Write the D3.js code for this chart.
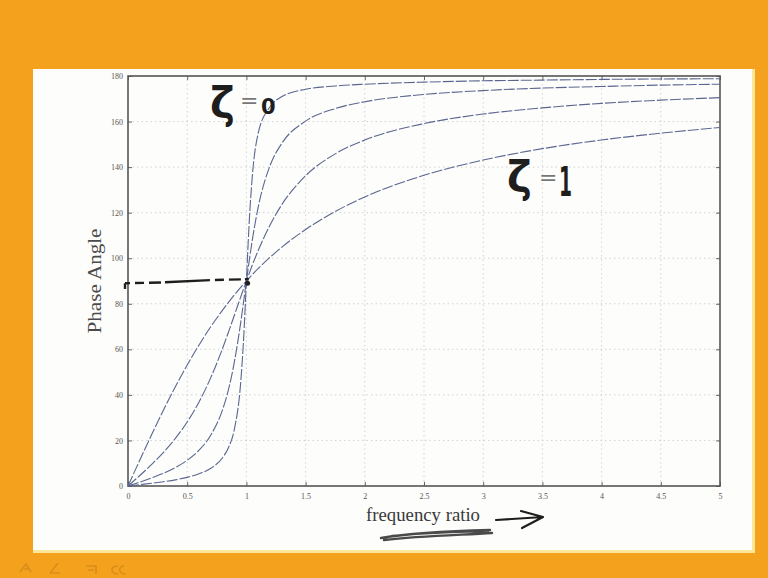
<!DOCTYPE html>
<html>
<head>
<meta charset="utf-8">
<script src="https://cdn.jsdelivr.net/npm/d3@7"></script>
<style>
  body { margin: 0; background: #f4a21e; }
  svg { display: block; }
</style>
</head>
<body>
<svg id="chart" width="768" height="578"></svg>
<script>
// frequency ratio samples (x) and the phase angle read for each curve (degrees)
const ratio = [0, 0.1, 0.2, 0.3, 0.4, 0.5, 0.6, 0.7, 0.8, 0.85, 0.9, 0.95, 0.975, 1, 1.025, 1.05, 1.1, 1.2, 1.3, 1.5, 1.75, 2, 2.5, 3, 3.5, 4, 4.5, 5];
const phaseA = [0, 0.6, 1.2, 1.9, 2.7, 3.8, 5.4, 7.8, 12.5, 17, 25.3, 44.3, 63.1, 90, 117, 136, 155, 166.5, 171, 174.2, 175.6, 176.4, 177.3, 177.9, 178.2, 178.5, 178.7, 178.8];
const phaseB = [0, 1.7, 3.6, 5.6, 8.1, 11.3, 15.7, 22.4, 33.7, 42.6, 54.9, 71.1, 80.4, 90, 99.3, 108, 122.5, 140.7, 150.5, 160.2, 165.7, 168.7, 171.9, 173.6, 174.7, 175.4, 176, 176.4];
const phaseC = [0, 4.6, 9.5, 14.8, 20.9, 28.1, 36.9, 47.7, 60.6, 67.8, 75.2, 82.7, 86.4, 90, 93.5, 97, 103.4, 114.6, 123.6, 136.2, 145.8, 151.9, 159.1, 163.3, 166, 168, 169.4, 170.5];
const phaseD = [0, 11.4, 22.6, 33.4, 43.6, 53.1, 61.9, 70, 77.3, 80.7, 84, 87.1, 88.6, 90, 91.4, 92.8, 95.5, 100.4, 104.9, 112.6, 120.5, 126.9, 136.4, 143.1, 148.1, 151.9, 154.9, 157.4];

const xTicks = [0, 0.5, 1, 1.5, 2, 2.5, 3, 3.5, 4, 4.5, 5];
const yTicks = [0, 20, 40, 60, 80, 100, 120, 140, 160, 180];

const svg = d3.select("#chart");

// slide background
svg.append("rect").attr("x", 0).attr("y", 0).attr("width", 768).attr("height", 578).attr("fill", "#f4a21e");
svg.append("rect").attr("x", 33).attr("y", 69).attr("width", 722).attr("height", 483).attr("fill", "#fdfdfb");
svg.append("rect").attr("x", 33).attr("y", 550).attr("width", 722).attr("height", 3).attr("fill", "#fbe79a");
svg.append("rect").attr("x", 752).attr("y", 69).attr("width", 3).attr("height", 484).attr("fill", "#fbe79a");

const margin = {left: 128, right: 720, top: 76, bottom: 486};

const x = d3.scaleLinear().domain([0, 5]).range([margin.left, margin.right]);
const y = d3.scaleLinear().domain([0, 180]).range([margin.bottom, margin.top]);

// dotted grid
svg.append("g").selectAll("line").data(xTicks.slice(1, -1)).join("line")
    .attr("x1", d => x(d)).attr("x2", d => x(d))
    .attr("y1", y(0)).attr("y2", y(180))
    .attr("stroke", "#c8c8cc").attr("stroke-width", 0.8).attr("stroke-dasharray", "1.5,3");
svg.append("g").selectAll("line").data(yTicks.slice(1, -1)).join("line")
    .attr("x1", x(0)).attr("x2", x(5))
    .attr("y1", d => y(d)).attr("y2", d => y(d))
    .attr("stroke", "#c8c8cc").attr("stroke-width", 0.8).attr("stroke-dasharray", "1.5,3");

// axes, ticks pointing inwards like matlab, box on
const tickStyle = g => {
    g.selectAll(".domain").remove();
    g.selectAll(".tick line").attr("stroke", "#666");
    g.selectAll(".tick text").attr("fill", "#555").attr("font-family", "Liberation Serif").attr("font-size", 8);
};
svg.append("g")
    .attr("transform", `translate(0,${y(0)})`)
    .call(d3.axisBottom(x).tickValues(xTicks).tickSize(-4).tickPadding(7).tickFormat(d3.format("")))
    .call(tickStyle);
svg.append("g")
    .attr("transform", `translate(${x(0)},0)`)
    .call(d3.axisLeft(y).tickValues(yTicks).tickSize(-4).tickPadding(5))
    .call(tickStyle);
svg.append("g")
    .attr("transform", `translate(0,${y(180)})`)
    .call(d3.axisTop(x).tickValues(xTicks).tickSize(-4).tickFormat(""))
    .call(tickStyle);
svg.append("g")
    .attr("transform", `translate(${x(5)},0)`)
    .call(d3.axisRight(y).tickValues(yTicks).tickSize(-4).tickFormat(""))
    .call(tickStyle);

svg.append("rect")
    .attr("x", x(0)).attr("y", y(180))
    .attr("width", x(5) - x(0)).attr("height", y(0) - y(180))
    .attr("fill", "none").attr("stroke", "#555").attr("stroke-width", 1.6);

// phase curves
const line = d3.line()
    .x((d, i) => x(ratio[i]))
    .y(d => y(d))
    .curve(d3.curveMonotoneX);

[phaseA, phaseB, phaseC, phaseD].forEach(series => {
    svg.append("path")
        .datum(series)
        .attr("fill", "none")
        .attr("stroke", "#5a6690")
        .attr("stroke-width", 1.1)
        .attr("stroke-dasharray", "11,2")
        .attr("d", line);
});

// axis labels
svg.append("text")
    .attr("transform", `translate(101,${y(90)}) rotate(-90)`)
    .attr("text-anchor", "middle")
    .attr("font-family", "Liberation Serif").attr("font-size", 19)
    .attr("fill", "#4a4a4a")
    .attr("textLength", 105).attr("lengthAdjust", "spacingAndGlyphs")
    .text("Phase Angle");

svg.append("text")
    .attr("x", 366).attr("y", 521)
    .attr("font-family", "Liberation Serif").attr("font-size", 19)
    .attr("fill", "#3a3a3a")
    .attr("textLength", 114).attr("lengthAdjust", "spacingAndGlyphs")
    .text("frequency ratio");

// handwritten notes on top of the plot
const ink = "#1e1e1e";

// dashed guide at 90 degrees
svg.append("path")
    .attr("d", d3.line()([[x(0) - 3, y(89)], [x(0.3), y(89.4)], [x(0.7), y(90.4)], [x(1.02), y(90.8)]]))
    .attr("fill", "none").attr("stroke", ink).attr("stroke-width", 2.4)
    .attr("stroke-dasharray", "5,5,9,5,12,4,40,0");
svg.append("line")
    .attr("x1", x(0) - 3).attr("x2", x(0) - 3).attr("y1", y(89)).attr("y2", y(86.5))
    .attr("stroke", ink).attr("stroke-width", 2.4);
svg.append("circle").attr("cx", x(1.01)).attr("cy", y(89)).attr("r", 2.5).attr("fill", ink);

svg.append("text").attr("x", 210).attr("y", 118)
    .attr("font-family", "DejaVu Sans").attr("font-weight", "bold").attr("font-size", 42).attr("fill", ink).text("ζ");
svg.append("text").attr("x", 240).attr("y", 108)
    .attr("font-family", "DejaVu Sans").attr("font-size", 22).attr("fill", "#777").text("=");
svg.append("text").attr("x", 261).attr("y", 114)
    .attr("font-family", "DejaVu Sans").attr("font-weight", "bold").attr("font-size", 21).attr("fill", ink).text("0");

svg.append("text").attr("x", 507).attr("y", 192)
    .attr("font-family", "DejaVu Sans").attr("font-weight", "bold").attr("font-size", 42).attr("fill", ink).text("ζ");
svg.append("text").attr("x", 539).attr("y", 185)
    .attr("font-family", "DejaVu Sans").attr("font-size", 22).attr("fill", "#777").text("=");
svg.append("text").attr("x", 559).attr("y", 196)
    .attr("font-family", "DejaVu Sans").attr("font-weight", "bold").attr("font-size", 40).attr("fill", ink)
    .attr("textLength", 13).attr("lengthAdjust", "spacingAndGlyphs").text("1");

// arrow after the axis label
svg.append("path")
    .attr("d", "M496,520 L543,517 M521,511 L543,517 L522,528")
    .attr("fill", "none").attr("stroke", ink).attr("stroke-width", 2.2)
    .attr("stroke-linecap", "round").attr("stroke-linejoin", "round");

// scribbled underline
svg.append("path")
    .attr("d", "M381,538 C410,533 450,531 490,530 M384,540 C420,536 460,535 492,533 M392,536 C430,532 465,532 488,531")
    .attr("fill", "none").attr("stroke", "#4a4a4a").attr("stroke-width", 2.4)
    .attr("stroke-linecap", "round");

// faint toolbar marks on the orange strip
svg.append("path")
    .attr("d", "M20,572 L26,564 L31,572 M24,569 L29,569 M50,573 L58,563 M50,573 L60,573 M86,566 L96,566 L96,574 M88,570 L94,570 M118,566 C110,566 110,574 118,574 M124,566 C118,566 118,574 126,574")
    .attr("fill", "none").attr("stroke", "#d98e1a").attr("stroke-width", 1.6);
</script>
</body>
</html>
